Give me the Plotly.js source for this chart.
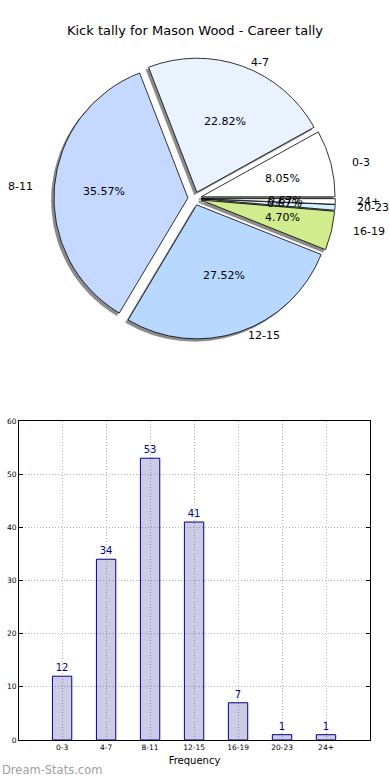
<!DOCTYPE html>
<html>
<head>
<meta charset="utf-8">
<script src="https://cdn.plot.ly/plotly-3.0.1.min.js"></script>
<style>html,body{margin:0;padding:0;background:#fff}#chart{width:390px;height:780px}</style>
</head>
<body>
<div id="chart"></div>
<script>
// ---- data ----
const categories = ['0-3', '4-7', '8-11', '12-15', '16-19', '20-23', '24+'];
const counts = [12, 34, 53, 41, 7, 1, 1];
const sliceColors = ['#ffffff', '#eaf1ff', '#c5d8ff', '#b8d8ff', '#d0ec8c', '#d4f3ff', '#ffffff'];
const chartTitle = 'Kick tally for Mason Wood - Career tally';

// ---- layout helpers ----
const W = 390, H = 780;
const total = counts.reduce((a, b) => a + b, 0);
const pullFrac = 0.05;
const pieDomX = [0.1382, 0.8597];
const pieDomY = [0.5651, 0.9259];
const shX = 2.5 / W, shY = 2.5 / H;
// first slice must start at 3 o'clock and run counterclockwise
const rot = 90 - counts[0] / total * 360;

const pie = {
  type: 'pie', values: counts, labels: categories, sort: false,
  direction: 'counterclockwise', rotation: rot,
  pull: counts.map(() => pullFrac), textinfo: 'none', hoverinfo: 'none',
  marker: { colors: sliceColors, line: { color: '#000', width: 0.8 } },
  domain: { x: pieDomX, y: pieDomY }
};
const shadow = {
  type: 'pie', values: counts, labels: categories, sort: false,
  direction: 'counterclockwise', rotation: rot,
  pull: counts.map(() => pullFrac), textinfo: 'none', hoverinfo: 'none',
  marker: { colors: counts.map(() => '#8c8c8c'), line: { color: '#777', width: 0.5 } },
  domain: { x: [pieDomX[0] - shX, pieDomX[1] - shX], y: [pieDomY[0] - shY, pieDomY[1] - shY] }
};

const bar = {
  type: 'bar', x: categories, y: counts, width: 0.44,
  text: counts.map(String), textposition: 'outside', cliponaxis: false,
  textfont: { family: 'DejaVu Sans', size: 10, color: '#00008b' },
  marker: { color: 'rgba(0,0,128,0.2)', line: { color: '#000080', width: 1 } },
  hoverinfo: 'none', xaxis: 'x', yaxis: 'y'
};

// pie text annotations computed from data (matplotlib style placement)
const cx = 194.6, cy = 198.5, rx = 140, ry = 126, ex = 0.047;
const annotations = [];
let cum = 0;
counts.forEach((v, i) => {
  const mid = (cum + v / 2) / total * 2 * Math.PI;
  cum += v;
  const dx = Math.cos(mid), dy = Math.sin(mid);
  const ox = cx + ex * rx * dx, oy = cy - ex * ry * dy;
  const lx = ox + 1.1 * rx * dx, ly = oy - 1.1 * ry * dy;
  const px = ox + 0.6 * rx * dx, py = oy - 0.6 * ry * dy;
  annotations.push({
    xref: 'paper', yref: 'paper', x: lx / W, y: 1 - ly / H,
    xanchor: dx > 0 ? 'left' : 'right', yanchor: 'middle', showarrow: false,
    text: categories[i], font: { family: 'DejaVu Sans', size: 11, color: '#000' }
  });
  annotations.push({
    xref: 'paper', yref: 'paper', x: px / W, y: 1 - py / H,
    xanchor: 'center', yanchor: 'middle', showarrow: false,
    text: (v / total * 100).toFixed(2) + '%', font: { family: 'DejaVu Sans', size: 11, color: '#000' }
  });
});
annotations.push({
  xref: 'paper', yref: 'paper', x: 0, y: 1 - 770 / H, xanchor: 'left', yanchor: 'middle',
  showarrow: false, text: 'Dream-Stats.com',
  font: { family: 'DejaVu Sans', size: 11.5, color: '#a0a0a0' }
});

const layout = {
  width: W, height: H, margin: { l: 0, r: 0, t: 0, b: 0 },
  paper_bgcolor: '#fff', plot_bgcolor: '#fff', showlegend: false,
  title: { text: chartTitle, x: 0.5, xanchor: 'center', xref: 'paper', y: 1 - 30 / H, yref: 'container', yanchor: 'middle',
    font: { family: 'DejaVu Sans', size: 13, color: '#000' } },
  xaxis: {
    domain: [19 / W, 370 / W], range: [-0.98, 7.0], type: 'category',
    showgrid: true, gridcolor: '#b8b8b8', griddash: '1px,2px', gridwidth: 1,
    showline: true, mirror: true, linecolor: '#000', linewidth: 1,
    ticks: '', tickfont: { family: 'DejaVu Sans', size: 7.5, color: '#000' },
    title: { text: 'Frequency', font: { family: 'DejaVu Sans', size: 10, color: '#000' }, standoff: 5 },
    zeroline: false, fixedrange: true, automargin: false
  },
  yaxis: {
    domain: [1 - 740 / H, 1 - 421 / H], range: [0, 60], dtick: 10,
    showgrid: true, gridcolor: '#b8b8b8', griddash: '1px,2px', gridwidth: 1,
    showline: true, mirror: 'ticks', linecolor: '#000', linewidth: 1,
    ticks: 'inside', ticklen: 4, tickcolor: '#000',
    tickfont: { family: 'DejaVu Sans', size: 7.5, color: '#000' },
    zeroline: false, fixedrange: true, automargin: false
  },
  annotations: annotations
};

Plotly.newPlot('chart', [shadow, pie, bar], layout, { displayModeBar: false, staticPlot: true });
</script>
</body>
</html>
